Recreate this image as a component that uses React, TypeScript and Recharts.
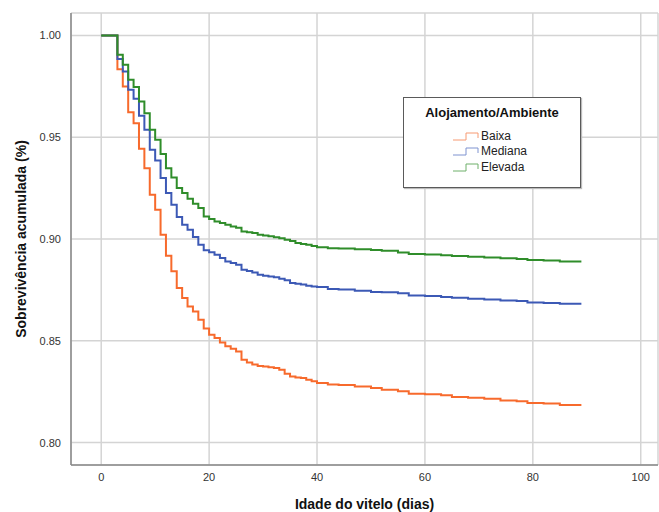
import React from 'react';
import {
  LineChart,
  Line,
  XAxis,
  YAxis,
  CartesianGrid
} from 'recharts';

// dias com eventos (passos da curva de Kaplan-Meier)
const dias = [
  0, 3, 4, 5, 6, 7, 8, 9, 10, 11, 12, 13, 14, 15, 16, 17, 18, 19, 20, 21, 22, 23, 24, 25, 26, 27, 28, 29,
  30, 31, 32, 33, 34, 35, 36, 37, 38, 39, 40, 42, 44, 47, 50, 52, 55, 57, 60, 63, 65, 68, 71, 74, 77, 79,
  82, 85, 89
];

const baixa = [
  1.0, 0.9834, 0.9749, 0.9623, 0.9569, 0.9443, 0.9348, 0.9217, 0.9144, 0.9021, 0.8918, 0.8841, 0.8759,
  0.871, 0.8669, 0.8644, 0.8604, 0.856, 0.853, 0.8514, 0.8492, 0.8473, 0.8461, 0.8448, 0.8407, 0.8394,
  0.8383, 0.8376, 0.8374, 0.837, 0.8366, 0.8358, 0.8338, 0.8325, 0.832, 0.8317, 0.8309, 0.8301, 0.8293,
  0.8285, 0.8283, 0.8276, 0.8268, 0.826, 0.8252, 0.824, 0.8238, 0.8232, 0.8224, 0.822, 0.8215, 0.8207,
  0.8203, 0.8194, 0.8192, 0.8185, 0.8185
];

const mediana = [
  1.0, 0.9884, 0.9823, 0.9733, 0.9689, 0.9605, 0.9536, 0.9438, 0.9386, 0.93, 0.9226, 0.9168, 0.9108,
  0.907, 0.9046, 0.901, 0.8972, 0.8945, 0.8935, 0.8923, 0.8907, 0.889, 0.8882, 0.8874, 0.8849, 0.8843,
  0.8835, 0.8824, 0.882, 0.8816, 0.8812, 0.8805, 0.8797, 0.8784, 0.878, 0.8776, 0.877, 0.8767, 0.8764,
  0.8754, 0.8752, 0.8746, 0.874, 0.8738, 0.8733, 0.8723, 0.872, 0.8715, 0.8712, 0.8707, 0.8703, 0.8698,
  0.8695, 0.8688, 0.8686, 0.8682, 0.8682
];

const elevada = [
  1.0, 0.9905, 0.9856, 0.9782, 0.9746, 0.9675, 0.9618, 0.9536, 0.9487, 0.9417, 0.9348, 0.9302, 0.925,
  0.9226, 0.9198, 0.9173, 0.9152, 0.9111, 0.9098, 0.9086, 0.9078, 0.907, 0.9062, 0.9055, 0.9037, 0.9033,
  0.9029, 0.9021, 0.9017, 0.9013, 0.9008, 0.9004, 0.8996, 0.899, 0.898, 0.8976, 0.8972, 0.8966, 0.896,
  0.8955, 0.8953, 0.895, 0.8946, 0.8942, 0.8934, 0.8926, 0.8924, 0.892, 0.8917, 0.8913, 0.8909, 0.8905,
  0.8902, 0.8897, 0.8894, 0.889, 0.889
];

const xTicks = [0, 20, 40, 60, 80, 100];
const yTicks = [0.8, 0.85, 0.9, 0.95, 1.0];

const series = [
  { key: 'baixa', name: 'Baixa', color: '#f76a2c', legendColor: '#f79a72' },
  { key: 'mediana', name: 'Mediana', color: '#3c59b5', legendColor: '#7f93d0' },
  { key: 'elevada', name: 'Elevada', color: '#2f8d2a', legendColor: '#6fb06a' }
];

const data = dias.map((d, i) => ({
  dia: d,
  baixa: baixa[i],
  mediana: mediana[i],
  elevada: elevada[i]
}));

const FONT = '"Liberation Sans", Arial, sans-serif';

const LegendBox = () => (
  <div
    style={{
      position: 'absolute',
      left: 403,
      top: 97,
      width: 176,
      height: 89,
      border: '1px solid #5a5a5a',
      boxShadow: '1px 1px 1px #bbb',
      background: '#fff',
      fontFamily: FONT,
      boxSizing: 'content-box'
    }}
  >
    <div style={{ fontWeight: 'bold', fontSize: 13, textAlign: 'center', marginTop: 7, color: '#111' }}>
      Alojamento/Ambiente
    </div>
    <div style={{ marginTop: 8, marginLeft: 49 }}>
      {series.map(s => (
        <div key={s.key} style={{ display: 'flex', alignItems: 'center', height: 15.5 }}>
          <svg width={27} height={10} style={{ marginRight: 1 }}>
            <path d="M0,9 H13 V2 H25 V7" fill="none" stroke={s.legendColor} strokeWidth={1} />
          </svg>
          <span style={{ fontSize: 12, color: '#222' }}>{s.name}</span>
        </div>
      ))}
    </div>
  </div>
);

const App: React.FC = () => {
  return (
    <div style={{ position: 'absolute', left: 0, top: 0, width: 659, height: 512, background: '#fff' }}>
      <LineChart width={659} height={512} data={data} margin={{ top: 13, right: 1, left: 15, bottom: 17 }}>
        <CartesianGrid stroke="#d4d4d4" strokeWidth={1.5} />
        <XAxis
          dataKey="dia"
          type="number"
          domain={[-5.6, 103.2]}
          ticks={xTicks}
          height={30}
          tickLine={false}
          axisLine={{ stroke: '#888', strokeWidth: 1.5 }}
          tick={{ fill: '#333', fontSize: 11, fontFamily: FONT }}
          tickMargin={2}
          label={{
            value: 'Idade do vitelo (dias)',
            position: 'insideBottom',
            offset: -14,
            style: { fontWeight: 'bold', fontSize: 14, fill: '#111', fontFamily: FONT }
          }}
        />
        <YAxis
          type="number"
          domain={[0.789, 1.011]}
          ticks={yTicks}
          width={56}
          tickLine={false}
          axisLine={{ stroke: '#888', strokeWidth: 1.5 }}
          tick={{ fill: '#333', fontSize: 11, fontFamily: FONT }}
          tickMargin={4}
          tickFormatter={(v: number) => v.toFixed(2)}
          label={{
            value: 'Sobrevivência acumulada (%)',
            angle: -90,
            position: 'insideLeft',
            offset: 6,
            style: { fontWeight: 'bold', fontSize: 14, fill: '#111', fontFamily: FONT, textAnchor: 'middle' }
          }}
        />
        {series.map(s => (
          <Line
            key={s.key}
            type="stepAfter"
            dataKey={s.key}
            name={s.name}
            stroke={s.color}
            strokeWidth={2}
            dot={false}
            isAnimationActive={false}
          />
        ))}
      </LineChart>
      <LegendBox />
    </div>
  );
};

export default App;
